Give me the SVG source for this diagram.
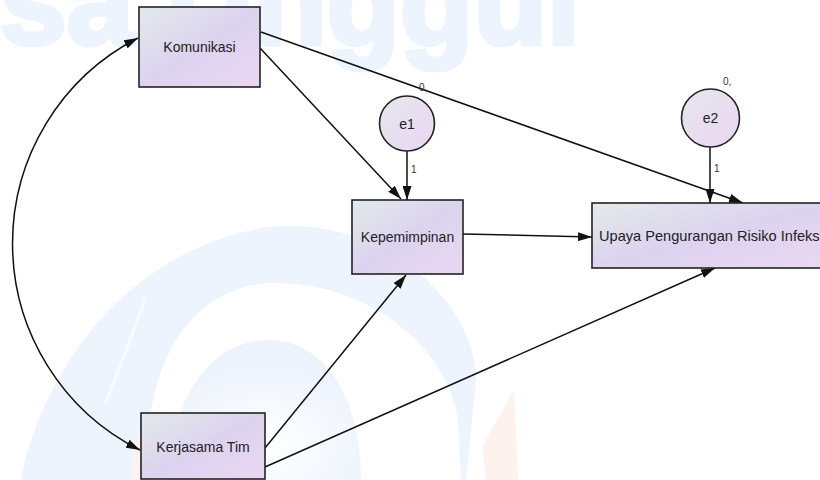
<svg xmlns="http://www.w3.org/2000/svg" width="820" height="480" viewBox="0 0 820 480">
<defs>
<linearGradient id="boxg" x1="0" y1="0" x2="1" y2="1">
<stop offset="0" stop-color="#e3eaea"/>
<stop offset="0.5" stop-color="#dcd3ef"/>
<stop offset="1" stop-color="#ebd7f2"/>
</linearGradient>
<linearGradient id="circg" x1="0" y1="0" x2="1" y2="1">
<stop offset="0" stop-color="#e6e6ee"/>
<stop offset="1" stop-color="#ead6f1"/>
</linearGradient>
<radialGradient id="disc" cx="0.5" cy="0.75" r="0.6">
<stop offset="0" stop-color="#ffffff"/>
<stop offset="1" stop-color="#edf3fd"/>
</radialGradient>
<marker id="ah" viewBox="0 0 14 9" refX="14" refY="4.5" markerWidth="14" markerHeight="9" markerUnits="userSpaceOnUse" orient="auto-start-reverse">
<path d="M0,0 L14,4.5 L0,9 Z" fill="#111"/>
</marker>
<style>
.wm{fill:#eef4fd}
.box{fill:url(#boxg);stroke:#222;stroke-width:1.6}
.circ{fill:url(#circg);stroke:#222;stroke-width:1.6}
.lbl{font-family:"Liberation Sans",Arial,sans-serif;font-size:14px;fill:#222;text-anchor:middle}
.sm{font-family:"Liberation Sans",Arial,sans-serif;font-size:10px;fill:#333}
.edge{fill:none;stroke:#111;stroke-width:1.5;marker-end:url(#ah)}
</style>
</defs>
<rect width="820" height="480" fill="#ffffff"/>
<g id="watermark">
<text x="-80" y="44" font-family="Liberation Sans,Arial,sans-serif" font-weight="bold" font-size="120" class="wm" stroke="#eef4fd" stroke-width="5">Esa Unggul</text>
<path fill-rule="evenodd" class="wm" d="M21,480 C40,380 120,250 268,227 C380,215 476,300 476,380 L466,480 Z M150,480 C140,380 180,290 268,283 C360,280 446,340 458,420 L461,480 Z"/>
<line x1="105" y1="405" x2="146" y2="298" stroke="#f8fbff" stroke-width="3"/>
<path d="M168,480 C170,400 210,340 268,340 C320,340 361,390 361,480 Z" fill="url(#disc)"/>
<path d="M486,480 L482,447 L514,390 L518,480 Z" fill="#fdf2ed"/>
<path d="M132,480 L134,445 L140,435 L140,480 Z" fill="#fdf2ed"/>
</g>
<g id="connectors">
<path class="edge" d="M138,38 A231,231 0 0 0 140,450" marker-start="url(#ah)"/>
<line class="edge" x1="260" y1="48" x2="401" y2="199"/>
<line class="edge" x1="261" y1="32" x2="743" y2="203"/>
<line class="edge" x1="463" y1="234" x2="592" y2="237"/>
<line class="edge" x1="407" y1="151" x2="407" y2="200"/>
<line class="edge" x1="710" y1="147" x2="710" y2="203"/>
<line class="edge" x1="265" y1="448" x2="406" y2="275"/>
<line class="edge" x1="265" y1="467" x2="715" y2="268"/>
</g>
<g id="Komunikasi">
<rect class="box" x="139" y="7" width="121" height="80"/>
<text class="lbl" x="199.5" y="52">Komunikasi</text>
</g>
<g id="Kepemimpinan">
<rect class="box" x="352" y="200" width="111" height="74"/>
<text class="lbl" x="407.5" y="242">Kepemimpinan</text>
</g>
<g id="Upaya">
<rect class="box" x="592" y="203" width="240" height="65"/>
<text class="lbl" x="599" y="241" style="text-anchor:start;font-size:14.6px">Upaya Pengurangan Risiko Infeksi</text>
</g>
<g id="KerjasamaTim">
<rect class="box" x="141" y="413" width="124" height="66"/>
<text class="lbl" x="203" y="452">Kerjasama Tim</text>
</g>
<g id="e1">
<circle class="circ" cx="407" cy="123.5" r="27.5"/>
<text class="lbl" x="407" y="128.5">e1</text>
<text class="sm" x="419" y="91">0,</text>
<text class="sm" x="411" y="173">1</text>
</g>
<g id="e2">
<circle class="circ" cx="710.5" cy="118" r="29"/>
<text class="lbl" x="710.5" y="123">e2</text>
<text class="sm" x="723" y="85">0,</text>
<text class="sm" x="714" y="172">1</text>
</g>
</svg>
